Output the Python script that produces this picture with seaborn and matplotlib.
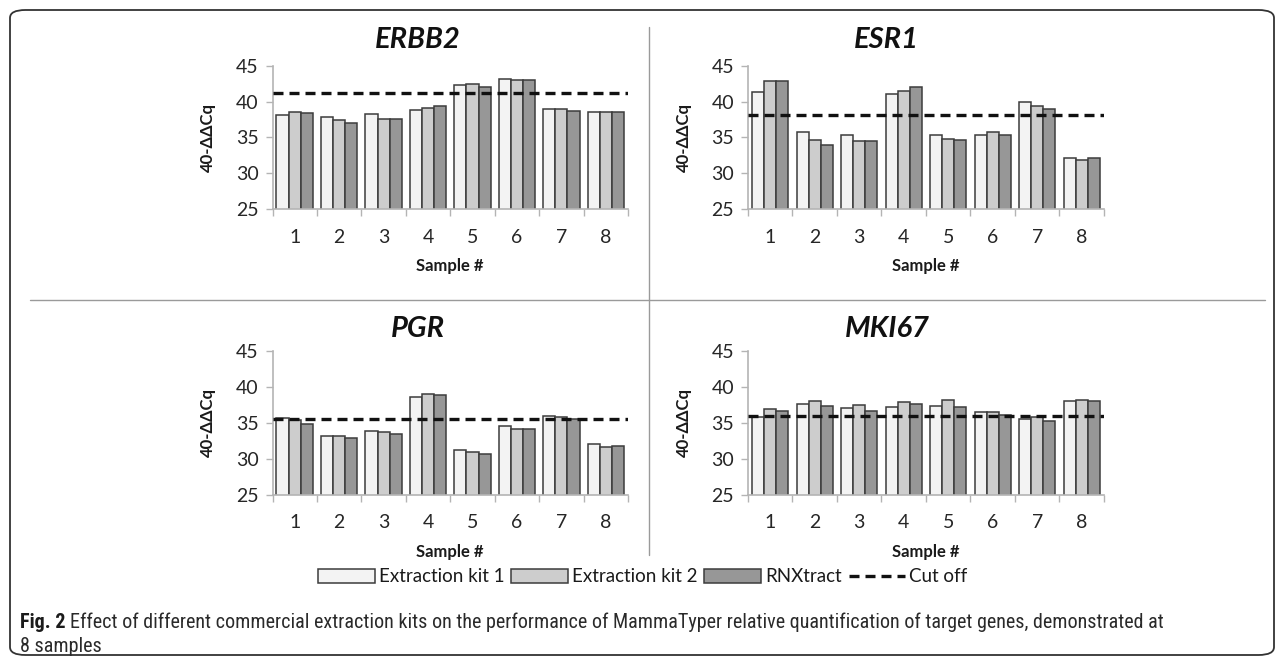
import numpy as np
import pandas as pd
import matplotlib
matplotlib.use("Agg")
import matplotlib.pyplot as plt
import seaborn as sns
from matplotlib.patches import Patch, FancyBboxPatch
from matplotlib.lines import Line2D
from matplotlib import font_manager

samples = ["1", "2", "3", "4", "5", "6", "7", "8"]
kits = ["Extraction kit 1", "Extraction kit 2", "RNXtract"]
genes = ["ERBB2", "ESR1", "PGR", "MKI67"]

erbb2_kit1 = [38.2, 37.9, 38.3, 38.8, 42.3, 43.2, 39.0, 38.6]
erbb2_kit2 = [38.5, 37.5, 37.6, 39.1, 42.4, 43.0, 38.9, 38.5]
erbb2_rnx = [38.4, 37.0, 37.6, 39.4, 42.1, 43.0, 38.7, 38.6]

esr1_kit1 = [41.4, 35.7, 35.4, 41.1, 35.3, 35.3, 39.9, 32.2]
esr1_kit2 = [42.8, 34.7, 34.5, 41.5, 34.8, 35.7, 39.4, 31.9]
esr1_rnx = [42.9, 33.9, 34.5, 42.0, 34.6, 35.3, 39.0, 32.2]

pgr_kit1 = [35.7, 33.2, 33.9, 38.6, 31.3, 34.5, 36.0, 32.0]
pgr_kit2 = [35.4, 33.2, 33.8, 39.0, 31.0, 34.1, 35.8, 31.7]
pgr_rnx = [34.9, 32.9, 33.4, 38.9, 30.7, 34.2, 35.5, 31.8]

mki67_kit1 = [35.8, 37.6, 37.1, 37.2, 37.4, 36.5, 35.6, 38.0]
mki67_kit2 = [36.9, 38.0, 37.5, 37.9, 38.1, 36.5, 35.8, 38.1]
mki67_rnx = [36.7, 37.4, 36.7, 37.6, 37.2, 36.1, 35.3, 38.0]

cutoffs = [41.2, 38.1, 35.5, 35.9]

series = {
    "ERBB2": [erbb2_kit1, erbb2_kit2, erbb2_rnx],
    "ESR1": [esr1_kit1, esr1_kit2, esr1_rnx],
    "PGR": [pgr_kit1, pgr_kit2, pgr_rnx],
    "MKI67": [mki67_kit1, mki67_kit2, mki67_rnx],
}

rows = []
for g in genes:
    for k, vals in zip(kits, series[g]):
        for s, v in zip(samples, vals):
            rows.append({"gene": g, "kit": k, "sample": s, "value": v})
df = pd.DataFrame(rows)

sns.set_theme(style="white")
plt.rcParams["font.family"] = ["Lato", "DejaVu Sans"]

W, H = 1284, 662
fig = plt.figure(figsize=(W / 100, H / 100), dpi=100)

palette = {"Extraction kit 1": "#f3f3f3", "Extraction kit 2": "#cdcdcd", "RNXtract": "#979797"}
edge = "#3c3c3c"
axis_gray = "#b4b4b4"
dash = (0, (3.0, 1.8))

def fx(px):
    return px / W

def fy(py):
    return 1 - py / H

positions = {
    "ERBB2": (272.5, 65.7, 628, 209.3),
    "ESR1": (748, 65.7, 1104, 209.3),
    "PGR": (272.5, 350.7, 628, 495),
    "MKI67": (748, 350.7, 1104, 495),
}
title_pos = {"ERBB2": (418, 40), "ESR1": (886, 40), "PGR": (418, 329), "MKI67": (887, 329)}

for g, cut in zip(genes, cutoffs):
    x0, y0, x1, y1 = positions[g]
    ax = fig.add_axes([fx(x0), fy(y1), fx(x1 - x0), (y1 - y0) / H])
    sub = df[df.gene == g]
    sns.barplot(data=sub, x="sample", y="value", hue="kit", order=samples,
                hue_order=kits, palette=palette, edgecolor=edge, linewidth=1.1,
                width=0.82, gap=0, ax=ax, legend=False, errorbar=None)
    ax.axhline(cut, color="#111111", lw=2.4, ls=dash, zorder=5)
    ax.set_ylim(25, 45)
    ax.set_xlim(-0.5, 7.5)
    ax.set_yticks([25, 30, 35, 40, 45])
    ax.tick_params(axis="y", which="major", length=5, width=1, color=axis_gray,
                   direction="out", labelsize=14, labelcolor="#262626", pad=5, left=True)
    ax.tick_params(axis="x", which="major", length=0, labelsize=14, labelcolor="#262626", pad=14)
    ax.set_xticks(np.arange(-0.5, 8.0, 1.0), minor=True)
    ax.tick_params(axis="x", which="minor", length=5, width=1, color=axis_gray, direction="out", bottom=True)
    for side in ["top", "right"]:
        ax.spines[side].set_visible(False)
    for side in ["left", "bottom"]:
        ax.spines[side].set_color(axis_gray)
        ax.spines[side].set_linewidth(1.2)
    ax.set_xlabel("Sample #", fontsize=12, fontweight="bold", color="#1a1a1a", labelpad=9)
    ax.set_ylabel("40-ΔΔCq", fontsize=12, fontweight="bold", color="#1a1a1a", labelpad=14)
    ax.set_facecolor("none")
    tx, ty = title_pos[g]
    fig.text(fx(tx), fy(ty), g, ha="center", va="center", fontsize=21,
             fontweight="bold", fontstyle="italic", color="#111111")

# divider lines
fig.add_artist(Line2D([fx(649), fx(649)], [fy(27), fy(555)], color="#9a9a9a", lw=1))
fig.add_artist(Line2D([fx(30), fx(1265)], [fy(300), fy(300)], color="#9a9a9a", lw=1))

# legend
handles = [Patch(facecolor=palette[k], edgecolor=edge, linewidth=1.1) for k in kits]
handles.append(Line2D([0], [0], color="#111111", lw=2.4, ls=dash))
labels = kits + ["Cut off"]
fig.legend(handles, labels, loc="center", bbox_to_anchor=(fx(643), fy(577)), ncol=4,
           frameon=False, fontsize=13.5, handlelength=3.0, handleheight=0.7,
           handletextpad=0.25, columnspacing=0.35, borderaxespad=0, borderpad=0,
           labelcolor="#1a1a1a")

# outer rounded border
border = FancyBboxPatch((fx(10), fy(655)), fx(1264), (655 - 10) / H,
                        boxstyle="round,pad=0,rounding_size=0.012", transform=fig.transFigure,
                        facecolor="none", edgecolor="#333333", lw=1.3)
fig.add_artist(border)

# caption (condensed face if available)
avail = {f.name for f in font_manager.fontManager.ttflist}
cap_family = "Lato"
for cand in ["Liberation Sans Narrow", "DejaVu Sans Condensed", "Roboto Condensed", "Open Sans Condensed"]:
    if cand in avail:
        cap_family = cand
        break
cap_font = [cap_family, "DejaVu Sans"]
cap_text = ("Effect of different commercial extraction kits on the performance of MammaTyper "
            "relative quantification of target genes, demonstrated at")
fs = 13.0
renderer = fig.canvas.get_renderer()
t1 = fig.text(fx(20), fy(622), "Fig. 2", ha="left", va="center", fontsize=fs,
              fontweight="bold", family=cap_font, color="#1b1b1b")
bb = t1.get_window_extent(renderer=renderer)
t2 = fig.text(bb.x1 / W + fx(5), fy(622), cap_text, ha="left", va="center", fontsize=fs,
              family=cap_font, color="#2a2a2a")
bb2 = t2.get_window_extent(renderer=renderer)
scale = (1240 - 20) / (bb2.x1 - bb.x0)
fs2 = min(fs * scale, 14.5)
t1.set_fontsize(fs2)
bb = t1.get_window_extent(renderer=renderer)
t2.set_fontsize(fs2)
t2.set_x(bb.x1 / W + fx(5))
fig.text(fx(20), fy(646), "8 samples", ha="left", va="center", fontsize=fs2,
         family=cap_font, color="#2a2a2a")

fig.savefig("out.png", dpi=100, facecolor="white")
